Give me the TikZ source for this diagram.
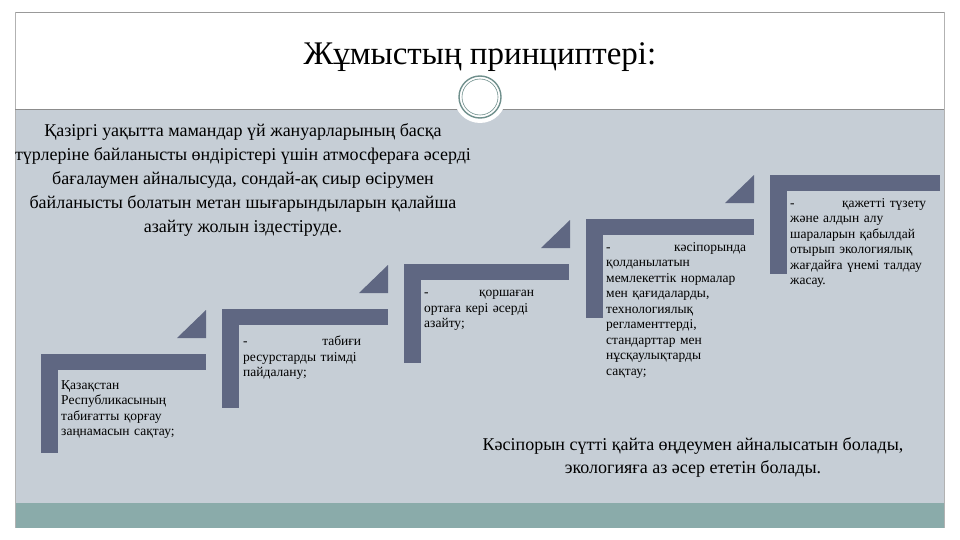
\documentclass[tikz,border=0pt]{standalone}
\usepackage{fontspec}
\setmainfont{Liberation Serif}
\begin{document}
\begin{tikzpicture}[x=1pt,y=-1pt,
  stxt/.style={anchor=north west,font=\fontsize{13.5}{15.5}\selectfont,text width=#1,align=left,inner sep=0pt},
  stxt/.default=118]
\definecolor{barc}{HTML}{5F6782}
\definecolor{bgc}{HTML}{C6CED6}
\definecolor{teal}{HTML}{8AABAA}
\definecolor{ringc}{HTML}{6F8F8C}
\useasboundingbox (0,0) rectangle (960,540);
\fill[white] (0,0) rectangle (960,540);
\fill[bgc] (15,110) rectangle (944,503);
\fill[teal] (15,503) rectangle (944,528);
\draw[gray!80,line width=0.8pt] (15,12) -- (944,12);
\draw[gray!60] (15,12) -- (15,528);
\draw[gray!60] (944,12) -- (944,528);
\draw[gray!90,line width=1pt] (15,110) -- (944,110);
\node (title) at (480,57) {\fontsize{33}{36}\selectfont Жұмыстың принциптері:};
\fill[white] (480,97) circle (26);
\draw[ringc,line width=1.4pt] (480,97) circle (21);
\draw[ringc,line width=0.6pt] (480,97) circle (18);
\node (intro) at (243,180) [align=center,font=\fontsize{18}{24}\selectfont] {Қазіргі уақытта мамандар үй жануарларының басқа\\ түрлеріне байланысты өндірістері үшін атмосфераға әсерді\\ бағалаумен айналысуда, сондай-ақ  сиыр өсірумен\\ байланысты болатын метан шығарындыларын қалайша\\ азайту жолын іздестіруде.};
\foreach \x/\y/\w in {41/354/165,222/309/166,404/264/165,586/219/168,770/175/170}{
  \fill[barc] (\x,\y) rectangle ++(\w,16);
  \fill[barc] (\x,\y) rectangle ++(17,99);
}
\foreach \x/\y in {206/338,388/293,570/248,754/203}{
  \fill[barc] (\x-29,\y) -- (\x,\y-28) -- (\x,\y) -- cycle;
}
\node[stxt=125] (s1) at (61,380) {Қазақстан\\ Республикасының\\ табиғатты қорғау\\ заңнамасын сақтау;};
\node[stxt=118] (s2) at (243,336) {-\hfill табиғи\hspace*{14pt}\\ ресурстарды тиімді\\ пайдалану;};
\node[stxt=110] (s3) at (424,290) {-\hfill қоршаған\\ ортаға кері әсерді\\ азайту;};
\node[stxt=140] (s4) at (606,242) {-\hfill кәсіпорында\hspace*{6pt}\\ қолданылатын\\ мемлекеттік нормалар\\ мен қағидаларды,\\ технологиялық\\ регламенттерді,\\ стандарттар мен\\ нұсқаулықтарды\\ сақтау;};
\node[stxt=136] (s5) at (790,198) {-\hfill қажетті түзету\\ және алдын алу\\ шараларын қабылдай\\ отырып экологиялық\\ жағдайға үнемі талдау\\ жасау.};
\node (concl) at (693,457) [align=center,font=\fontsize{18}{23}\selectfont] {Кәсіпорын сүтті қайта өңдеумен айналысатын болады,\\ экологияға аз әсер ететін болады.};
\end{tikzpicture}
\end{document}
